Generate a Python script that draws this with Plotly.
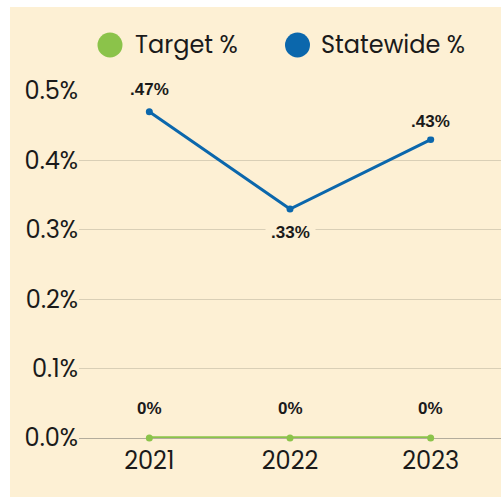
import plotly.graph_objects as go

years = ["2021", "2022", "2023"]
target = [0.0, 0.0, 0.0]
statewide = [0.47, 0.33, 0.43]
target_labels = ["0%", "0%", "0%"]
statewide_labels = [".47%", ".33%", ".43%"]
statewide_shift = [22, -24, 18]
y_ticks = [0, 0.1, 0.2, 0.3, 0.4, 0.5]
y_ticktext = ["0.0%", "0.1%", "0.2%", "0.3%", "0.4%", "0.5%"]

BG = "#FDF0D4"
GREEN = "#8BC34A"
BLUE = "#0B67AC"
W, H = 501, 497
ML, MR, MT, MB = 79, 0, 91, 59

fig = go.Figure()
fig.add_trace(go.Scatter(x=years, y=target, mode="lines+markers", name="Target %",
                         line=dict(color=GREEN, width=3.5), marker=dict(size=7, color=GREEN),
                         cliponaxis=False, showlegend=False))
fig.add_trace(go.Scatter(x=years, y=statewide, mode="lines+markers", name="Statewide %",
                         line=dict(color=BLUE, width=3), marker=dict(size=7, color=BLUE),
                         cliponaxis=False, showlegend=False))

ann = []
lab_font = dict(family="Liberation Sans, Arial, sans-serif", size=17, color="#1a1a1a")
for i, (y, t, s) in enumerate(zip(statewide, statewide_labels, statewide_shift)):
    ann.append(dict(xref="x", yref="y", x=i, y=y, text="<b>%s</b>" % t, showarrow=False, yshift=s,
                    font=lab_font, bgcolor=BG, borderpad=5))
for i, (y, t) in enumerate(zip(target, target_labels)):
    ann.append(dict(xref="x", yref="y", x=i, y=y, text="<b>%s</b>" % t, showarrow=False, yshift=30,
                    font=lab_font, bgcolor=BG, borderpad=5))

# manual legend
pw = W - ML - MR
ph = H - MT - MB
def px(xp):
    return (xp - ML) / pw
def py(yp):
    return (H - MB - yp) / ph

leg_font = dict(family="Poppins, Open Sans, sans-serif", size=24, color="#1a1a1a")
legend_items = [("Target %", GREEN, 110, 133), ("Statewide %", BLUE, 297.5, 319)]
shapes = [dict(type="rect", xref="paper", yref="paper", x0=px(10), x1=px(W + 5), y0=py(H + 5), y1=py(7),
               fillcolor=BG, line=dict(width=0), layer="below")]
for name, col, cx, tx in legend_items:
    shapes.append(dict(type="circle", xref="paper", yref="paper", xsizemode="pixel", ysizemode="pixel",
                       xanchor=px(cx), yanchor=py(45), x0=-12.5, x1=12.5, y0=-12.5, y1=12.5,
                       fillcolor=col, line=dict(width=0)))
    ann.append(dict(xref="paper", yref="paper", x=px(tx), y=py(45), xanchor="left", yanchor="middle",
                    text=name, showarrow=False, font=leg_font))

fig.update_layout(
    width=W, height=H,
    margin=dict(l=ML, r=MR, t=MT, b=MB),
    paper_bgcolor="white", plot_bgcolor="rgba(0,0,0,0)",
    showlegend=False,
    annotations=ann, shapes=shapes,
    font=dict(family="Poppins, Open Sans, sans-serif", color="#1a1a1a"),
    xaxis=dict(type="category", range=[-0.5, 2.5], showgrid=False, zeroline=False, showline=False,
               ticks="", tickfont=dict(size=24), ticklabelstandoff=6, fixedrange=True),
    yaxis=dict(range=[0, 0.5], tickvals=y_ticks, ticktext=y_ticktext, showgrid=True,
               gridcolor="#D9CFB6", gridwidth=1, zeroline=True, zerolinecolor="#B3AC9C", zerolinewidth=1,
               showline=False, ticks="", tickfont=dict(size=24), fixedrange=True),
)
fig.write_html("out.html", config={"displayModeBar": False},
               post_script="document.body.style.margin='0';document.body.style.overflow='hidden';")
